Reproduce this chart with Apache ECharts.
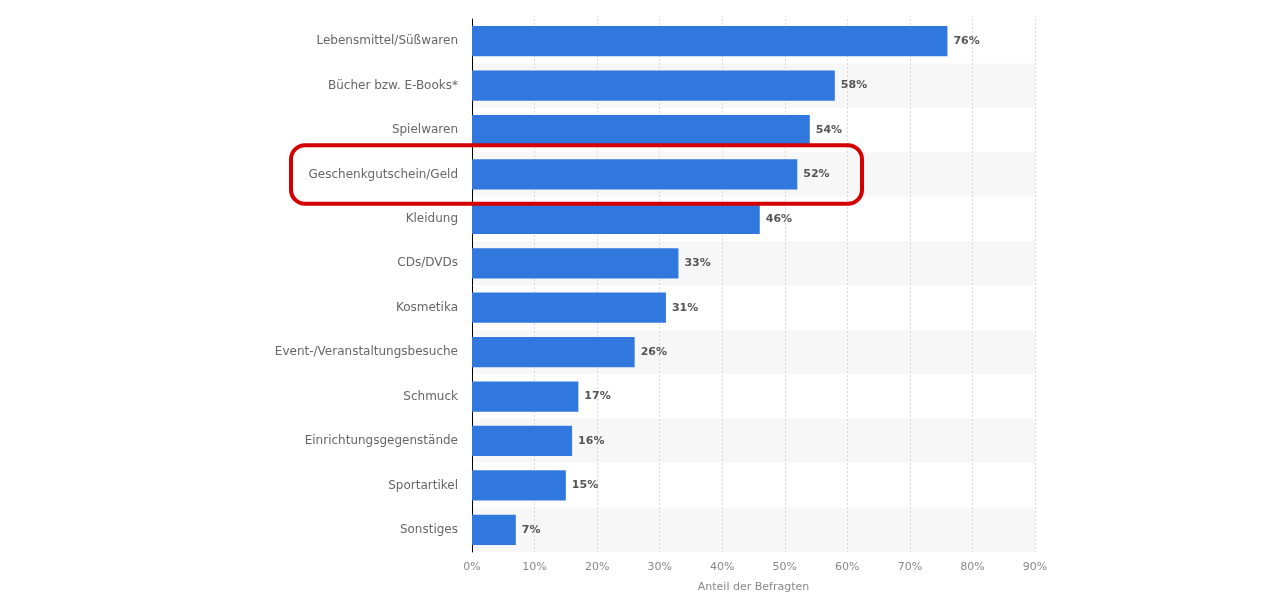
<!DOCTYPE html>
<html><head><meta charset="utf-8">
<script src="https://cdn.jsdelivr.net/npm/echarts@6/dist/echarts.min.js"></script>
<style>html,body{margin:0;padding:0;background:#fff}#c{width:1280px;height:600px}</style>
</head><body><div id="c"></div>
<script>
const categories = ["Lebensmittel/Süßwaren","Bücher bzw. E-Books*","Spielwaren","Geschenkgutschein/Geld","Kleidung","CDs/DVDs","Kosmetika","Event-/Veranstaltungsbesuche","Schmuck","Einrichtungsgegenstände","Sportartikel","Sonstiges"];
const values = [76,58,54,52,46,33,31,26,17,16,15,7];
const highlight = "Geschenkgutschein/Geld";
const axisTitle = "Anteil der Befragten";

const chart = echarts.init(document.getElementById('c'));
chart.setOption({
  animation:false,
  grid:{left:472,right:245,top:19,bottom:48},
  xAxis:{type:'value',min:0,max:90,interval:10,
    name:axisTitle,nameLocation:'middle',nameGap:30,
    nameTextStyle:{color:'#888',fontSize:11,fontFamily:'DejaVu Sans'},
    axisLabel:{formatter:'{value}%',color:'#888',fontSize:11,fontFamily:'DejaVu Sans',margin:10},
    axisLine:{show:false},axisTick:{show:false},
    splitLine:{show:true,lineStyle:{color:'#d8d8d8',type:[2,2],width:1}}
  },
  yAxis:{type:'category',data:categories,inverse:true,
    axisLine:{show:true,lineStyle:{color:'#000',width:1}},
    axisTick:{show:false},
    axisLabel:{color:'#666',fontSize:12,fontFamily:'DejaVu Sans',margin:14},
    splitArea:{show:true,areaStyle:{color:['#ffffff','#f7f7f7']}}
  },
  series:[{type:'bar',data:values,barCategoryGap:'32%',
    itemStyle:{color:'#3078de'},
    label:{show:true,position:'right',formatter:'{c}%',color:'#555',fontWeight:'bold',fontSize:11,fontFamily:'DejaVu Sans',distance:6}
  }]
});
const idx = categories.indexOf(highlight);
const p = chart.convertToPixel({seriesIndex:0},[values[idx], idx]);
const band = (600-19-48)/categories.length;
chart.setOption({graphic:[{type:'rect',shape:{x:291,y:p[1]-band/2-7,width:571,height:band+14,r:14},
  style:{fill:'none',stroke:'#d40000',lineWidth:4},z:100}]});
</script></body></html>
